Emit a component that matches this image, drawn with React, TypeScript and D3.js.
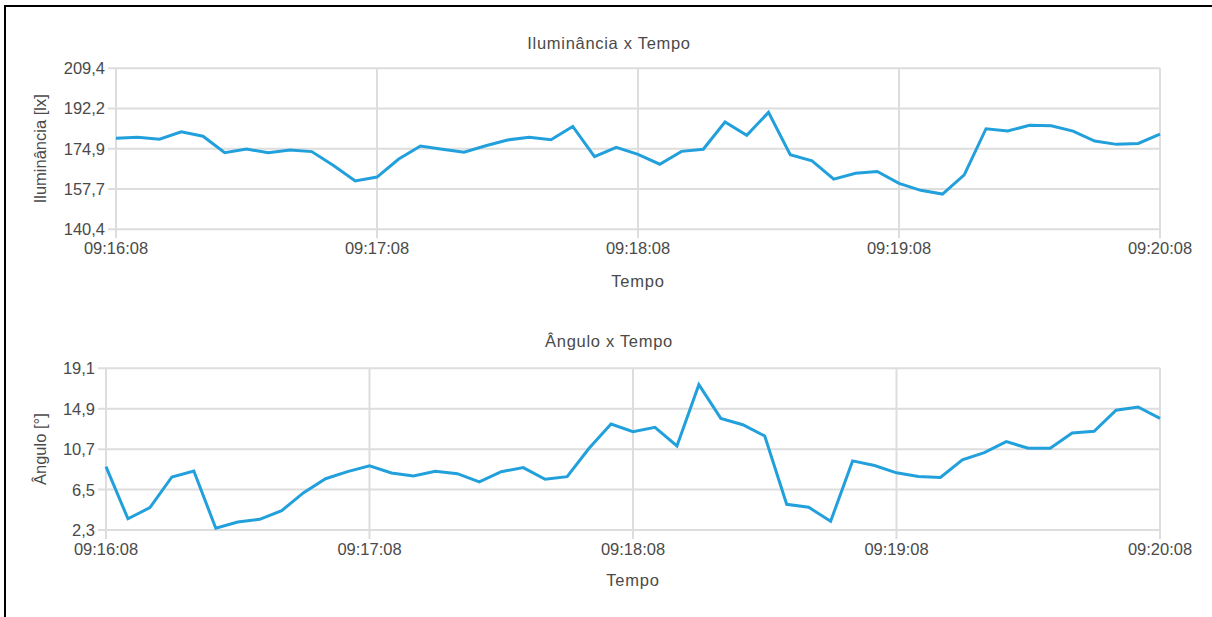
import * as d3 from "d3";

// samples every 5 s from 09:16:08 to 09:20:08
const sampleTimes = [
  "09:16:08", "09:16:13", "09:16:18", "09:16:23", "09:16:28", "09:16:33", "09:16:38",
  "09:16:43", "09:16:48", "09:16:53", "09:16:58", "09:17:03", "09:17:08", "09:17:13",
  "09:17:18", "09:17:23", "09:17:28", "09:17:33", "09:17:38", "09:17:43", "09:17:48",
  "09:17:53", "09:17:58", "09:18:03", "09:18:08", "09:18:13", "09:18:18", "09:18:23",
  "09:18:28", "09:18:33", "09:18:38", "09:18:43", "09:18:48", "09:18:53", "09:18:58",
  "09:19:03", "09:19:08", "09:19:13", "09:19:18", "09:19:23", "09:19:28", "09:19:33",
  "09:19:38", "09:19:43", "09:19:48", "09:19:53", "09:19:58", "09:20:03", "09:20:08",
];

const illuminance = [
  179.4, 179.9, 179.0, 182.2, 180.3, 173.2, 174.8, 173.2, 174.4, 173.7, 167.7, 161.1, 162.8,
  170.5, 176.1, 174.7, 173.4, 176.2, 178.7, 179.8, 178.8, 184.5, 171.5, 175.5, 172.5, 168.3,
  173.8, 174.7, 186.4, 180.7, 190.5, 172.4, 169.7, 161.9, 164.4, 165.2, 160.1, 157.1, 155.5,
  163.7, 183.5, 182.5, 185.0, 184.8, 182.5, 178.2, 176.8, 177.2, 181.2,
];

const angle = [
  8.88, 3.47, 4.62, 7.81, 8.43, 2.48, 3.13, 3.41, 4.31, 6.18, 7.63, 8.36, 8.98,
  8.22, 7.91, 8.4, 8.15, 7.29, 8.36, 8.78, 7.57, 7.84, 10.79, 13.31, 12.51, 12.97,
  11.03, 17.4, 13.9, 13.24, 12.07, 4.97, 4.66, 3.2, 9.48, 9.0, 8.24, 7.86, 7.75,
  9.58, 10.34, 11.48, 10.79, 10.79, 12.38, 12.56, 14.74, 15.08, 13.9,
];

const timeTicks = ["09:16:08", "09:17:08", "09:18:08", "09:19:08", "09:20:08"];
const illumTicks = [140.4, 157.7, 174.9, 192.2, 209.4];
const angleTicks = [2.3, 6.5, 10.7, 14.9, 19.1];

const parseTime = d3.timeParse("%H:%M:%S");
const fmt = (v: number) => d3.format(".1f")(v).replace(".", ",");
const FONT = "'Liberation Sans', Arial, Helvetica, sans-serif";
const TEXT = "#4a4a4a";
const GRID = "#dddddd";
const LINE = "#22a0dc";

type PanelProps = {
  values: number[];
  yTicks: number[];
  title: string;
  yLabel: string;
  left: number;
  right: number;
  top: number;
  bottom: number;
  titleY: number;
  xTitleY: number;
};

const Panel = (props: PanelProps) => {
  const { values, yTicks, title, yLabel, left, right, top, bottom, titleY, xTitleY } = props;

  const times = sampleTimes.map((t) => parseTime(t) as Date);
  const xScale = d3
    .scaleTime()
    .domain([parseTime(timeTicks[0]) as Date, parseTime(timeTicks[timeTicks.length - 1]) as Date])
    .range([left, right]);
  const yScale = d3
    .scaleLinear()
    .domain([yTicks[0], yTicks[yTicks.length - 1]])
    .range([bottom, top]);

  const line = d3
    .line<number>()
    .x((_, i) => xScale(times[i]))
    .y((d) => yScale(d));

  return (
    <g fontFamily={FONT} fill={TEXT}>
      <text x={609} y={titleY} textAnchor="middle" fontSize={16.5} letterSpacing={0.7}>
        {title}
      </text>

      {/* horizontal grid + y ticks */}
      {yTicks.map((t) => (
        <g key={"y" + t}>
          <line x1={left - 8} x2={right} y1={yScale(t)} y2={yScale(t)} stroke={GRID} strokeWidth={2} />
          <text x={left - 11} y={yScale(t)} dy="0.36em" textAnchor="end" fontSize={16.5}>
            {fmt(t)}
          </text>
        </g>
      ))}

      {/* vertical grid + x ticks */}
      {timeTicks.map((t) => {
        const x = xScale(parseTime(t) as Date);
        return (
          <g key={"x" + t}>
            <line x1={x} x2={x} y1={top} y2={bottom + 9} stroke={GRID} strokeWidth={2} />
            <text x={x} y={bottom + 25} textAnchor="middle" fontSize={16.5}>
              {t}
            </text>
          </g>
        );
      })}

      <path d={line(values) || ""} fill="none" stroke={LINE} strokeWidth={3} strokeLinejoin="miter" />

      <text x={(left + right) / 2} y={xTitleY} textAnchor="middle" fontSize={16.5} letterSpacing={0.8}>
        Tempo
      </text>
      <text
        transform={`translate(46,${(top + bottom) / 2}) rotate(-90)`}
        textAnchor="middle"
        fontSize={16.5}
      >
        {yLabel}
      </text>
    </g>
  );
};

export default function App() {
  return (
    <svg
      width={1212}
      height={617}
      style={{ position: "absolute", left: 0, top: 0, background: "white" }}
    >
      <rect x={5} y={6} width={1400} height={800} fill="none" stroke="black" strokeWidth={2} />
      <Panel
        values={illuminance}
        yTicks={illumTicks}
        title="Iluminância x Tempo"
        yLabel="Iluminância [lx]"
        left={116}
        right={1160}
        top={68.3}
        bottom={229.3}
        titleY={49}
        xTitleY={287}
      />
      <Panel
        values={angle}
        yTicks={angleTicks}
        title="Ângulo x Tempo"
        yLabel="Ângulo [°]"
        left={106}
        right={1160}
        top={368.3}
        bottom={530}
        titleY={347}
        xTitleY={586}
      />
    </svg>
  );
}
